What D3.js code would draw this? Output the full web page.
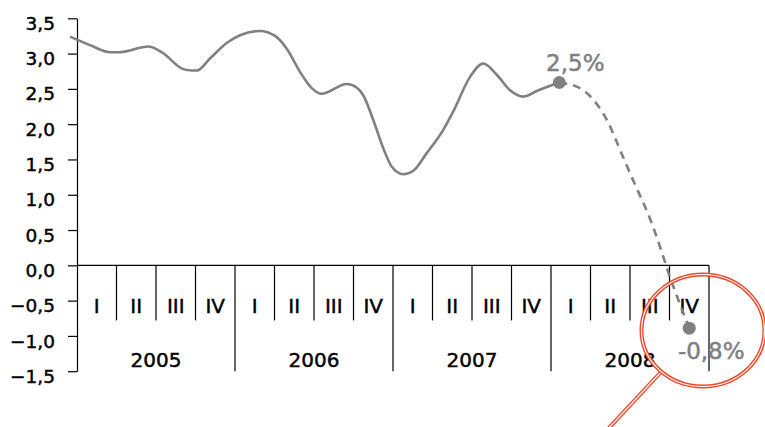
<!DOCTYPE html>
<html>
<head>
<meta charset="utf-8">
<script src="https://cdn.jsdelivr.net/npm/d3@7"></script>
<style>
  body { margin: 0; background: #fff; }
  svg { display: block; font-family: "DejaVu Sans", sans-serif; }
</style>
</head>
<body>
<svg width="765" height="427"></svg>
<script>
// inflation, % yoy - actual (month position from Jan 2005) and forecast
let actualMonths = [-0.53, 0.99, 2.51, 3.27, 5.42, 6.43, 8.07, 8.73, 9.11, 10.1, 11.37, 12.38, 13.9, 15.04, 15.93, 16.94, 17.83, 18.58, 20.48, 21.24, 21.74, 22.5, 23.26, 23.9, 24.78, 25.54, 26.56, 27.82, 28.58, 29.85, 30.86, 31.88, 32.89, 33.9, 35.04, 36.63];
let actualValues = [3.24, 3.12, 3.02, 3.02, 3.10, 3.02, 2.78, 2.76, 2.76, 2.93, 3.15, 3.26, 3.32, 3.25, 3.07, 2.74, 2.51, 2.43, 2.57, 2.52, 2.41, 2.06, 1.66, 1.40, 1.29, 1.34, 1.59, 1.92, 2.18, 2.67, 2.86, 2.70, 2.48, 2.39, 2.48, 2.59];
let forecastMonths = [36.63, 38.45, 39.97, 40.99, 42.25, 43.52, 44.53, 45.29, 46.5];
let forecastValues = [2.59, 2.48, 2.15, 1.75, 1.20, 0.66, 0.12, -0.30, -0.89];

// labelled points
let markMonths = [36.63, 46.5];
let markValues = [2.59, -0.89];
let markLabels = ["2,5%", "-0,8%"];

let years = ["2005", "2006", "2007", "2008"];
let quarters = ["I", "II", "III", "IV"];
let yTicks = [-1.5, -1.0, -0.5, 0.0, 0.5, 1.0, 1.5, 2.0, 2.5, 3.0, 3.5];

let svg = d3.select("svg");
let lineColor = "#808080";

let x = d3.scaleLinear().domain([0, 48]).range([77, 709]);
let y = d3.scaleLinear().domain([-1.5, 3.5]).range([371.2, 18.3]);

let fmt = d3.formatLocale({decimal: ",", thousands: " ", grouping: [3], currency: ["", ""]}).format(".1f");

// y axis
let yAxis = svg.append("g")
    .attr("transform", "translate(" + x(0) + ",0)")
    .call(d3.axisLeft(y).tickValues(yTicks).tickSize(9).tickSizeOuter(0).tickPadding(13).tickFormat(fmt));
yAxis.select(".domain").attr("stroke", "#000").attr("stroke-width", 1.2);
yAxis.selectAll(".tick line").attr("stroke", "#000").attr("stroke-width", 1.2);
yAxis.selectAll(".tick text")
    .attr("font-size", 18.5)
    .attr("font-family", "DejaVu Sans")
    .attr("fill", "#000")
    .attr("stroke", "#000")
    .attr("stroke-width", 0.45)
    .attr("dy", "0.6em");

// category axis hanging from zero line
let cat = svg.append("g").attr("stroke", "#000").attr("stroke-width", 1.2);
cat.append("line")
    .attr("x1", x(0)).attr("x2", x(48))
    .attr("y1", y(0)).attr("y2", y(0));

let qIdx = d3.range(years.length * quarters.length);
cat.selectAll(".qdiv")
    .data(qIdx.slice(1).concat([qIdx.length]))
    .enter().append("line")
    .attr("x1", d => x(d * 3)).attr("x2", d => x(d * 3))
    .attr("y1", y(0))
    .attr("y2", d => (d % 4 === 0) ? y(-1.5) : y(-0.78));

let labels = svg.append("g")
    .attr("fill", "#000")
    .attr("stroke", "#000")
    .attr("stroke-width", 0.45)
    .attr("font-size", 20)
    .attr("text-anchor", "middle");

labels.selectAll(".qlab")
    .data(qIdx)
    .enter().append("text")
    .attr("x", d => x(d * 3 + 1.5))
    .attr("y", 312.7)
    .text(d => quarters[d % 4]);

labels.selectAll(".ylab")
    .data(years)
    .enter().append("text")
    .attr("x", (d, i) => x(i * 12 + 6))
    .attr("y", 367)
    .text(d => d);

// lines
let line = d3.line()
    .x(d => x(d[0]))
    .y(d => y(d[1]))
    .curve(d3.curveMonotoneX);

svg.append("path")
    .datum(d3.zip(actualMonths, actualValues))
    .attr("fill", "none")
    .attr("stroke", lineColor)
    .attr("stroke-width", 2.6)
    .attr("d", line);

svg.append("path")
    .datum(d3.zip(forecastMonths, forecastValues))
    .attr("fill", "none")
    .attr("stroke", lineColor)
    .attr("stroke-width", 2.6)
    .attr("stroke-dasharray", "8,6")
    .attr("d", line.curve(d3.curveNatural));

svg.selectAll(".dot")
    .data(d3.zip(markMonths, markValues, markLabels))
    .enter().append("circle")
    .attr("cx", d => x(d[0]))
    .attr("cy", d => y(d[1]))
    .attr("r", 6.5)
    .attr("fill", lineColor);

svg.selectAll(".mlab")
    .data(d3.zip(markMonths, markValues, markLabels))
    .enter().append("text")
    .attr("x", d => x(d[0]) + 16 + (d[1] < 0 ? 6 : 0))
    .attr("y", d => d[1] < 0 ? y(d[1]) + 31 : y(d[1]) - 12)
    .attr("text-anchor", "middle")
    .attr("font-size", 23)
    .attr("fill", lineColor)
    .attr("stroke", lineColor)
    .attr("stroke-width", 0.5)
    .text(d => d[2]);

// red magnifier annotation
let red = "#f0482a";
let ring = svg.append("g").attr("fill", "none");
ring.append("line")
    .attr("x1", 661).attr("y1", 372).attr("x2", 607).attr("y2", 430)
    .attr("stroke", red).attr("stroke-width", 4);
ring.append("line")
    .attr("x1", 661).attr("y1", 372).attr("x2", 607).attr("y2", 430)
    .attr("stroke", "#fff").attr("stroke-width", 1.2);
ring.append("ellipse")
    .attr("cx", 703).attr("cy", 330.5).attr("rx", 61.5).attr("ry", 56)
    .attr("stroke", red).attr("stroke-width", 4);
ring.append("ellipse")
    .attr("cx", 703).attr("cy", 330.5).attr("rx", 61.5).attr("ry", 56)
    .attr("stroke", "#fff").attr("stroke-width", 1.2);
</script>
</body>
</html>
